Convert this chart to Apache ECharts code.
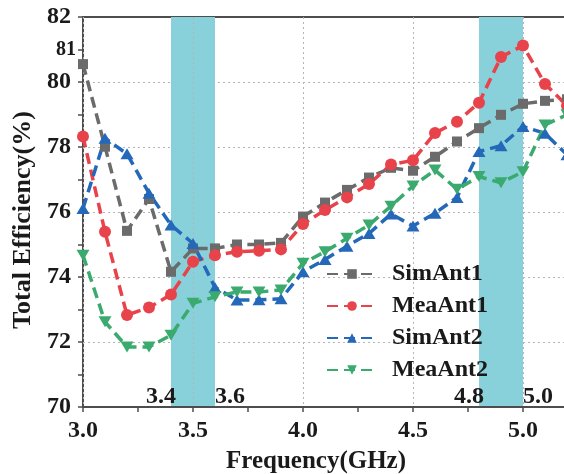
<!DOCTYPE html>
<html>
<head>
<meta charset="utf-8">
<script src="https://cdn.jsdelivr.net/npm/echarts@6/dist/echarts.min.js"></script>
<style>
  html, body { margin: 0; padding: 0; background: #fff; }
  #chart { width: 564px; height: 474px; }
</style>
</head>
<body>
<div id="chart"></div>
<script>
// Frequency sweep (GHz)
const freq = [3.0, 3.1, 3.2, 3.3, 3.4, 3.5, 3.6, 3.7, 3.8, 3.9, 4.0, 4.1,
              4.2, 4.3, 4.4, 4.5, 4.6, 4.7, 4.8, 4.9, 5.0, 5.1, 5.2];

// Total efficiency (%) per antenna, simulated and measured
const simAnt1 = [80.55, 78.01, 75.42, 76.40, 74.16, 74.88, 74.88, 75.00, 75.00, 75.05, 75.86, 76.29,
                 76.68, 77.06, 77.36, 77.27, 77.70, 78.17, 78.58, 78.99, 79.33, 79.42, 79.47];
const meaAnt1 = [78.32, 75.39, 72.83, 73.06, 73.46, 74.47, 74.67, 74.78, 74.81, 74.85, 75.63, 76.06,
                 76.45, 76.86, 77.46, 77.59, 78.43, 78.78, 79.36, 80.77, 81.12, 79.94, 79.27];
const simAnt2 = [76.11, 78.27, 77.79, 76.58, 75.60, 75.03, 73.68, 73.29, 73.30, 73.33, 74.16, 74.54,
                 74.95, 75.34, 75.94, 75.57, 75.96, 76.45, 77.86, 78.04, 78.63, 78.42, 77.76];
const meaAnt2 = [74.67, 72.62, 71.85, 71.85, 72.21, 73.19, 73.39, 73.54, 73.54, 73.60, 74.42, 74.78,
                 75.19, 75.60, 76.18, 76.80, 77.29, 76.70, 77.09, 76.90, 77.24, 78.68, 78.99];

const seriesNames = ['SimAnt1', 'MeaAnt1', 'SimAnt2', 'MeaAnt2'];

// Operating bands (GHz)
const bands = [[3.4, 3.6], [4.8, 5.0]];

// Axis ranges and tick labels
const xMin = 3.0, xMax = 5.2, xStep = 0.5;
const yMin = 70, yMax = 82, yStep = 2;
const xTickLabels = ['3.0', '3.5', '4.0', '4.5', '5.0'];
const yExtraLabel = 81;

const FONT = '"Liberation Serif", "Times New Roman", serif';
const TEXT = '#1a1a1a';
const AXIS = '#4d4d4d';
const DASH = [11, 6];

const styles = [
  { color: '#6b6b6b', symbol: 'rect', size: 10, rotate: 0 },
  { color: '#e8434b', symbol: 'circle', size: 12, rotate: 0 },
  { color: '#2468ba', symbol: 'triangle', size: [13, 11], rotate: 0 },
  { color: '#3aaa6e', symbol: 'triangle', size: [13, 11], rotate: 180 }
];

const values = [simAnt1, meaAnt1, simAnt2, meaAnt2];

const lineSeries = seriesNames.map((name, i) => ({
  name,
  type: 'line',
  z: 4,
  data: freq.map((f, k) => [f, values[i][k]]),
  symbol: styles[i].symbol,
  symbolSize: styles[i].size,
  symbolRotate: styles[i].rotate,
  showAllSymbol: true,
  itemStyle: { color: styles[i].color },
  lineStyle: { color: styles[i].color, width: 3.5, type: DASH },
  emphasis: { disabled: true }
}));

// Edge label of a band, placed just outside the shaded area
function edgeLabel(edge, side) {
  return {
    value: [edge, yMin],
    label: {
      show: true,
      position: side,
      distance: side === 'left' ? -5 : 0,
      formatter: edge.toFixed(1),
      fontFamily: FONT, fontWeight: 'bold', fontSize: 24,
      color: TEXT, opacity: 1
    }
  };
}

// Shaded bands plus their edge labels
const bandSeries = {
  name: 'bands',
  type: 'scatter',
  z: 5,
  silent: true,
  clip: false,
  symbolSize: 0,
  itemStyle: { color: TEXT, opacity: 1 },
  emphasis: { disabled: true },
  label: { fontFamily: FONT, fontWeight: 'bold', fontSize: 24, color: TEXT },
  data: bands.flatMap(([a, b]) => [edgeLabel(a, 'left'), edgeLabel(b, 'right')]),
  labelLayout: { hideOverlap: false, dy: -10 },
  markArea: {
    silent: true,
    z: 1,
    itemStyle: { color: '#88d0da', opacity: 1 },
    data: bands.map(([a, b]) => [{ xAxis: a }, { xAxis: b }])
  }
};

const chart = echarts.init(document.getElementById('chart'), null, { renderer: 'canvas' });

chart.setOption({
  animation: false,
  backgroundColor: '#ffffff',
  grid: { left: 83, right: -3, top: 17, bottom: 67, containLabel: false, outerBoundsMode: 'none' },
  legend: {
    data: seriesNames,
    orient: 'vertical',
    left: 321,
    top: 257,
    itemWidth: 50,
    itemHeight: 12,
    itemGap: 8,
    selectedMode: false,
    textStyle: {
      fontFamily: FONT, fontWeight: 'bold', fontSize: 24, color: TEXT,
      padding: [0, 0, 0, 10]
    }
  },
  xAxis: [{
    type: 'value',
    min: xMin, max: xMax, interval: xStep,
    z: 2,
    name: 'Frequency(GHz)',
    nameLocation: 'middle',
    nameGap: 42,
    nameTextStyle: {
      fontFamily: FONT, fontWeight: 'bold', fontSize: 25, color: TEXT,
      padding: [0, 18, 0, 0]
    },
    axisLine: { show: true, onZero: false, lineStyle: { color: AXIS, width: 2 } },
    axisTick: { show: true, inside: false, length: 5, lineStyle: { color: AXIS, width: 1.5 } },
    minorTick: { show: true, splitNumber: 2, length: 5, lineStyle: { color: AXIS, width: 1.5 } },
    axisLabel: {
      margin: 12,
      showMaxLabel: false,
      fontFamily: FONT, fontWeight: 'bold', fontSize: 24, color: TEXT,
      formatter: v => {
        const s = v.toFixed(1);
        return xTickLabels.includes(s) ? s : '';
      }
    },
    splitLine: { show: true, lineStyle: { color: '#b4b4b4', width: 1, type: [2, 3] } }
  }, {
    type: 'value',
    position: 'top',
    min: xMin, max: xMax,
    axisLine: { show: true, onZero: false, lineStyle: { color: AXIS, width: 2 } },
    axisTick: { show: false },
    axisLabel: { show: false },
    splitLine: { show: false }
  }],
  yAxis: [{
    type: 'value',
    min: yMin, max: yMax, interval: yStep,
    name: 'Total Efficiency(%)',
    nameLocation: 'middle',
    nameGap: 47,
    nameTextStyle: {
      fontFamily: FONT, fontWeight: 'bold', fontSize: 26, color: TEXT,
      padding: [0, 16, 0, 0]
    },
    axisLine: { show: true, onZero: false, lineStyle: { color: AXIS, width: 2 } },
    axisTick: { show: true, inside: false, length: 5, lineStyle: { color: AXIS, width: 1.5 } },
    minorTick: { show: true, splitNumber: 2, length: 5, lineStyle: { color: AXIS, width: 1.5 } },
    axisLabel: {
      margin: 12,
      fontFamily: FONT, fontWeight: 'bold', fontSize: 24, color: TEXT,
      formatter: v => String(v)
    },
    splitLine: { show: true, lineStyle: { color: '#b4b4b4', width: 1, type: [2, 3] } }
  }, {
    type: 'value',
    position: 'left',
    min: yMin, max: yMax, interval: 1,
    axisLine: { show: false },
    axisTick: { show: false },
    splitLine: { show: false },
    axisLabel: {
      margin: 7,
      fontFamily: FONT, fontWeight: 'bold', fontSize: 20, color: TEXT,
      formatter: v => (v === yExtraLabel ? String(v) : '')
    }
  }],
  series: [bandSeries, ...lineSeries]
});
</script>
</body>
</html>
